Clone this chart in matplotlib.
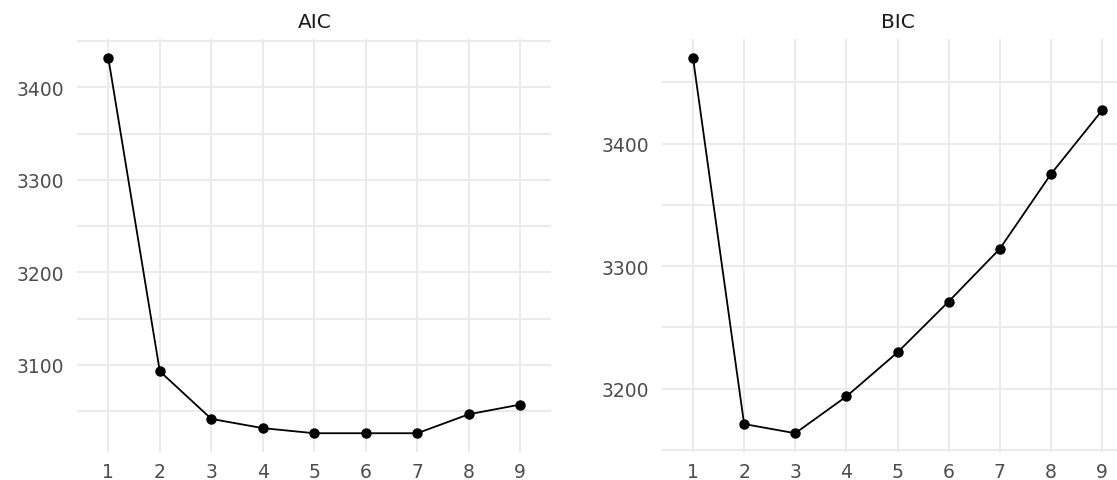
import matplotlib
matplotlib.use("Agg")
import matplotlib.pyplot as plt
from matplotlib.ticker import MultipleLocator

# ---- data ----
clusters = [1, 2, 3, 4, 5, 6, 7, 8, 9]
tick_labels = ["1", "2", "3", "4", "5", "6", "7", "8", "9"]
aic = [3432, 3093, 3041.5, 3031.5, 3026, 3026, 3026, 3046.5, 3057]
bic = [3470, 3171, 3163.5, 3193.5, 3229.5, 3271, 3314, 3375, 3427]
titles = ["AIC", "BIC"]

plt.rcParams["font.family"] = ["DejaVu Sans"]

W, H = 1117, 481
fig = plt.figure(figsize=(W / 100, H / 100), dpi=100)
fig.patch.set_facecolor("white")

# axes boxes in pixels: (left, right)
boxes = [(77.4, 551.2), (662.3, 1132.7)]
top_px, bot_px = 40, 453

grid_col = "#ebebeb"
for (l, r), vals, title in zip(boxes, [aic, bic], titles):
    ax = fig.add_axes([l / W, 1 - bot_px / H, (r - l) / W, (bot_px - top_px) / H])
    ax.set_facecolor("white")
    ax.plot(clusters, vals, color="black", lw=1.3, marker="o", ms=6.5, zorder=3)
    ax.set_xlim(0.4, 9.6)
    lo, hi = min(vals), max(vals)
    pad = (hi - lo) * 0.05
    ax.set_ylim(lo - pad, hi + pad)
    ax.set_xticks(clusters)
    ax.set_xticklabels(tick_labels)
    ax.yaxis.set_major_locator(MultipleLocator(100))
    ax.yaxis.set_minor_locator(MultipleLocator(50))
    ax.grid(True, which="major", color=grid_col, lw=1.5, zorder=0)
    ax.grid(True, which="minor", axis="y", color=grid_col, lw=1.5, zorder=0)
    ax.set_axisbelow(True)
    for s in ax.spines.values():
        s.set_visible(False)
    ax.tick_params(which="both", length=0, labelsize=13.5, labelcolor="#4d4d4d")
    ax.tick_params(axis="y", pad=9.5)
    ax.tick_params(axis="x", pad=7.5)
    ax.set_title(title, fontsize=14.5, color="#1a1a1a", pad=9)

fig.savefig("out.png", dpi=100, facecolor="white")
